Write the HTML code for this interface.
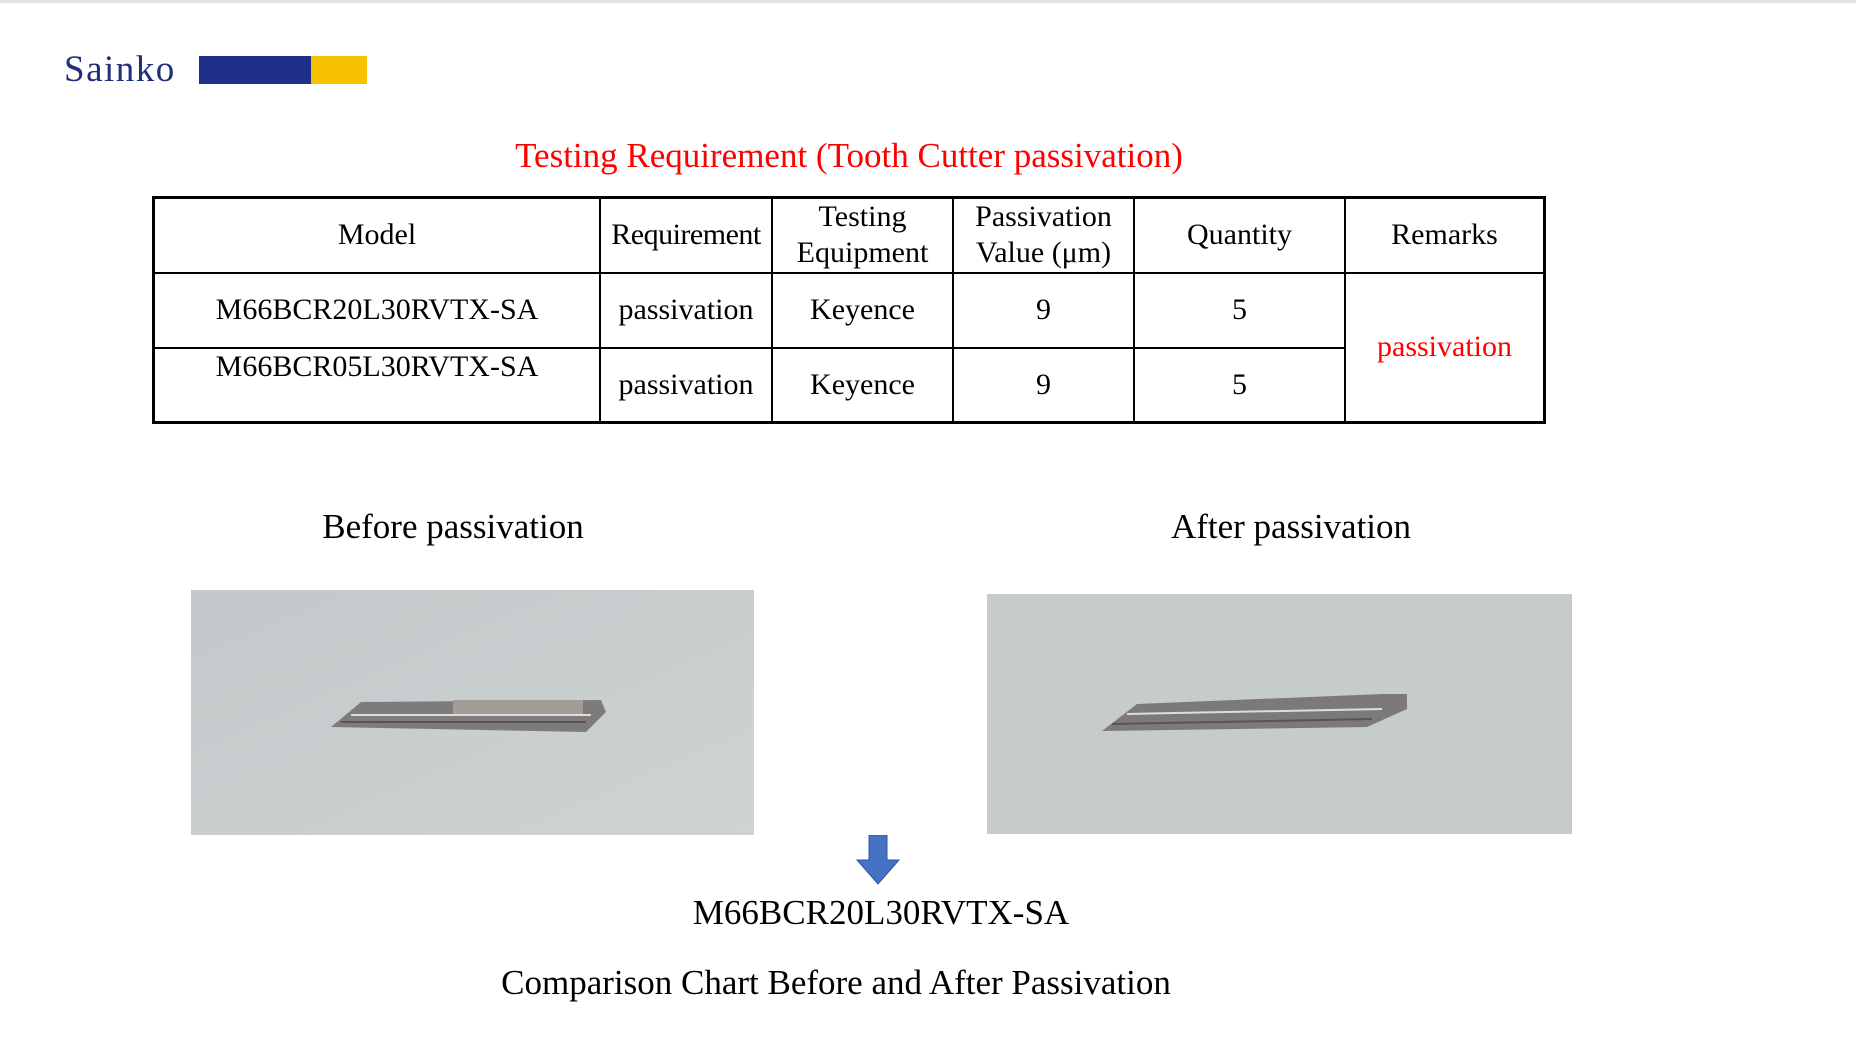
<!DOCTYPE html>
<html><head><meta charset="utf-8"><style>
body{margin:0;width:1856px;height:1049px;background:#fff;position:relative;overflow:hidden;font-family:"Liberation Serif",serif;}
.a{position:absolute;white-space:nowrap;}
table{position:absolute;left:152px;top:196px;border-collapse:collapse;border:3px solid #000;}
td{border:2px solid #000;text-align:center;font-size:30px;line-height:36px;padding:0;}
</style></head><body>
<div class="a" style="left:0;top:0;width:1856px;height:3px;background:#e2e2e2"></div>
<div class="a" style="left:64px;top:48px;font-size:37px;color:#1f2f7a;letter-spacing:1.5px">Sainko</div>
<div class="a" style="left:199px;top:56px;width:112px;height:28px;background:#1f2f8a"></div>
<div class="a" style="left:311px;top:56px;width:56px;height:28px;background:#f7c300"></div>
<div class="a" style="left:0;width:1698px;text-align:center;top:136px;font-size:35px;color:#f00">Testing Requirement (Tooth Cutter passivation)</div>
<table>
<tr style="height:75px"><td style="width:444px">Model</td><td style="width:170px;letter-spacing:-0.5px">Requirement</td><td style="width:179px">Testing<br>Equipment</td><td style="width:179px">Passivation<br>Value (μm)</td><td style="width:209px">Quantity</td><td style="width:197px">Remarks</td></tr>
<tr style="height:75px"><td>M66BCR20L30RVTX-SA</td><td>passivation</td><td>Keyence</td><td>9</td><td>5</td><td rowspan="2" style="color:#f00">passivation</td></tr>
<tr style="height:75px"><td style="vertical-align:top;line-height:36px">M66BCR05L30RVTX-SA</td><td>passivation</td><td>Keyence</td><td>9</td><td>5</td></tr>
</table>
<div class="a" style="left:253px;width:400px;text-align:center;top:507px;font-size:35px">Before passivation</div>
<div class="a" style="left:1091px;width:400px;text-align:center;top:507px;font-size:35px">After passivation</div>
<svg class="a" style="left:191px;top:590px" width="563" height="245">
<defs><linearGradient id="g1" x1="0" y1="0" x2="1" y2="1"><stop offset="0" stop-color="#c3c8ca"/><stop offset="1" stop-color="#ced3d3"/></linearGradient></defs>
<rect width="563" height="245" fill="url(#g1)"/>
<polygon points="140,137 170,112 410,110 415,122 395,142" fill="#7d7c7a"/>
<rect x="262" y="110" width="130" height="14" fill="#a29c96"/>
<line x1="160" y1="125" x2="400" y2="125" stroke="#ddd" stroke-width="2"/>
<line x1="150" y1="132" x2="395" y2="132" stroke="#555" stroke-width="2"/>
</svg>
<svg class="a" style="left:987px;top:594px" width="585" height="240">
<rect width="585" height="240" fill="#c6cbcc"/>
<polygon points="115,137 150,110 395,100 420,100 420,115 380,133" fill="#7c7a78"/>
<line x1="140" y1="120" x2="395" y2="115" stroke="#ddd" stroke-width="2"/>
<line x1="125" y1="130" x2="385" y2="125" stroke="#555" stroke-width="2"/>
</svg>
<svg class="a" style="left:856px;top:835px" width="44" height="50"><polygon points="13,0 31,0 31,25 43,25 22,49 1,25 13,25" fill="#4472c4" stroke="#2f5597" stroke-width="1"/></svg>
<div class="a" style="left:681px;width:400px;text-align:center;top:893px;font-size:35px">M66BCR20L30RVTX-SA</div>
<div class="a" style="left:436px;width:800px;text-align:center;top:963px;font-size:35px">Comparison Chart Before and After Passivation</div>
</body></html>
